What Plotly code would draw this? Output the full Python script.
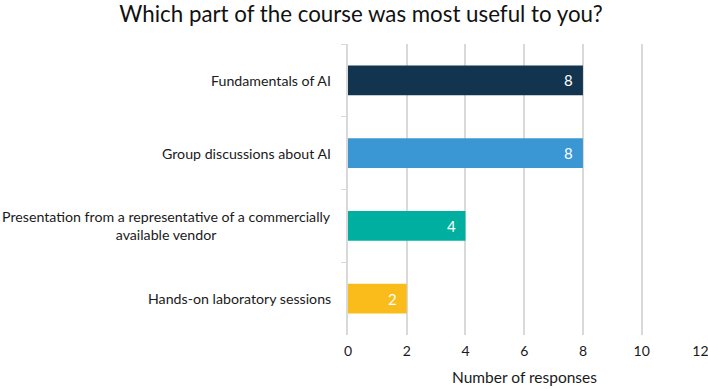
import plotly.graph_objects as go

categories = [
    "Fundamentals of AI",
    "Group discussions about AI",
    "Presentation from a representative of a commercially<br>available vendor",
    "Hands-on laboratory sessions",
]
responses = [8, 8, 4, 2]
colors = ["#12344f", "#3a97d3", "#00afa0", "#f9bc1b"]
x_ticks = [0, 2, 4, 6, 8, 10, 12]

font = "Lato, 'Open Sans', sans-serif"

fig = go.Figure(
    go.Bar(
        x=responses,
        y=categories,
        orientation="h",
        marker=dict(color=colors, line=dict(width=0)),
        width=0.41,
        hoverinfo="skip",
    )
)

for c in categories:
    fig.add_annotation(
        x=0, xref="paper", y=c, yref="y", xanchor="right", xshift=-15,
        text=c, showarrow=False, align="center",
        font=dict(size=14.2, color="#1a1a1a", family=font),
    )

for c, v in zip(categories, responses):
    fig.add_annotation(
        x=v, xref="x", y=c, yref="y", xanchor="center", xshift=-14,
        text=str(v), showarrow=False,
        font=dict(size=15, color="white", family=font),
    )

fig.update_layout(
    width=708, height=389,
    margin=dict(l=348, r=7, t=44, b=54, autoexpand=False),
    paper_bgcolor="white", plot_bgcolor="white",
    title=dict(text="Which part of the course was most useful to you?",
               x=0.51, xanchor="center", y=0.984, yanchor="top",
               font=dict(size=22.3, color="#111111", family=font)),
    showlegend=False,
)
fig.update_xaxes(
    range=[0, 12.02], tickvals=x_ticks, showgrid=True, gridcolor="#d9d9d9", gridwidth=1.5,
    zeroline=False, showline=False, automargin=False, ticklabelstandoff=6,
    ticklabeloverflow="allow",
    tickfont=dict(size=14, color="#1a1a1a", family=font),
    title=dict(text="Number of responses", font=dict(size=15.5, color="#1a1a1a", family=font), standoff=14),
)
fig.update_yaxes(
    categoryorder="array", categoryarray=categories, autorange="reversed",
    showticklabels=False, showline=True, linecolor="#d9d9d9", linewidth=1.5,
    ticks="outside", tickson="boundaries", ticklen=5, tickcolor="#d9d9d9",
    showgrid=False, automargin=False,
)

fig.write_html("out.html", config={"displayModeBar": False},
               post_script="document.body.style.margin='0';")
